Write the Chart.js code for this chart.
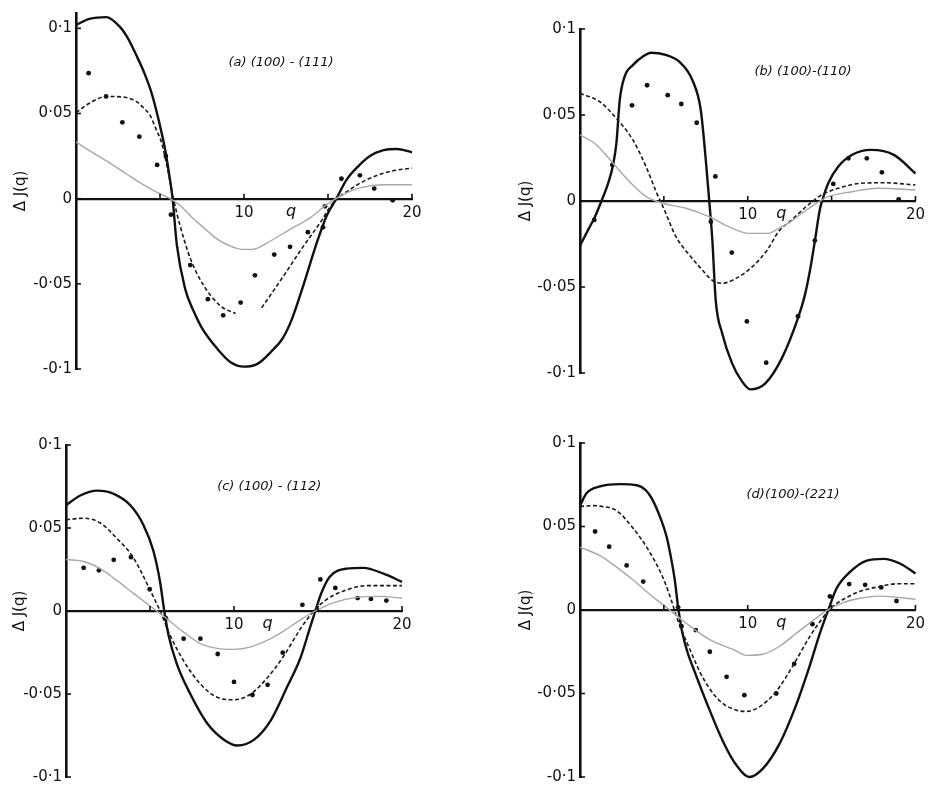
<!DOCTYPE html>
<html><head><meta charset="utf-8">
<script src="https://cdn.jsdelivr.net/npm/chart.js@4"></script>
<style>
body{margin:0;background:#fff;width:930px;height:790px;position:relative;overflow:hidden}
.p{position:absolute}
</style></head><body>
<div class="p" style="left:0;top:0;width:460px;height:395px"><canvas id="ca"></canvas></div>
<div class="p" style="left:465px;top:0;width:465px;height:400px"><canvas id="cb"></canvas></div>
<div class="p" style="left:0;top:400px;width:460px;height:390px"><canvas id="cc"></canvas></div>
<div class="p" style="left:465px;top:400px;width:465px;height:390px"><canvas id="cd"></canvas></div>
<script>
// ---- tick values / labels ----
const yTickValues = [-0.1, -0.05, 0, 0.05, 0.1];
const yTickLabels = ['-0·1', '-0·05', '0', '0·05', '0·1'];
const xTickValues = [5, 10, 15, 20];
const xTickLabels = ['', '10', '', '20'];
const yTitle = 'Δ J(q)';
const xName = 'q';
const panelTitles = ['(a) (100) - (111)', '(b) (100)-(110)', '(c) (100) - (112)', '(d)(100)-(221)'];

// ---- panel (a) ----
const aSolid = [[0,0.102],[0.8,0.1055],[1.8,0.1066],[2.6,0.101],[3.1,0.094],[3.6,0.084],[4.1,0.073],[4.5,0.062],[4.9,0.047],[5.3,0.029],[5.55,0.014],[5.75,0],[6.0,-0.027],[6.5,-0.053],[7.0,-0.066],[7.5,-0.076],[8.4,-0.088],[9.2,-0.096],[10,-0.0986],[10.8,-0.097],[11.6,-0.09],[12.3,-0.082],[12.84,-0.071],[13.53,-0.051],[14.33,-0.026],[14.92,-0.010],[15.5,0],[16.1,0.011],[16.8,0.019],[17.5,0.025],[18.3,0.0285],[19.1,0.0292],[20,0.0272]];
const aDashed = [[0,0.0505],[0.8,0.056],[1.8,0.060],[2.9,0.0595],[3.6,0.057],[4.0,0.0535],[4.4,0.049],[4.76,0.041],[5.1,0.0326],[5.5,0.015],[5.8,0],[6.2,-0.016],[6.8,-0.035],[7.6,-0.051],[8.6,-0.063],[9.5,-0.0675],[10.2,null],[11.05,-0.0641],[12.34,-0.0456],[13.53,-0.028],[14.52,-0.0143],[15.3,-0.0025],[16.3,0.0053],[17.3,0.0111],[18.7,0.016],[20,0.018]];
const aGray = [[0,0.0333],[1,0.027],[2.0,0.021],[3,0.0145],[4,0.0082],[4.8,0.0038],[5.5,0.0006],[6.2,-0.004],[6.94,-0.0113],[7.6,-0.017],[8.3,-0.023],[9.1,-0.0275],[9.9,-0.0298],[10.5,-0.0298],[11.55,-0.025],[12.74,-0.018],[13.93,-0.0113],[14.92,-0.0035],[15.7,0.0014],[16.9,0.0063],[18.3,0.0082],[20,0.0082]];
const aDots = [[0.75,0.0737],[1.79,0.060],[2.76,0.0448],[3.77,0.0364],[4.83,0.0198],[5.35,0.025],[5.65,-0.0094],[6.8,-0.039],[7.85,-0.059],[8.76,-0.0685],[9.8,-0.061],[10.65,-0.045],[11.8,-0.0328],[12.74,-0.0283],[13.8,-0.0197],[14.7,-0.0168],[14.82,-0.0045],[15.8,0.0117],[16.9,0.0137],[17.75,0.0059],[18.85,-0.001]];

// ---- panel (b) ----
const bSolid = [[0,-0.026],[0.5,-0.0165],[0.9,-0.009],[1.28,0],[1.7,0.011],[1.97,0.0209],[2.17,0.0336],[2.37,0.0587],[2.66,0.0723],[3.15,0.079],[3.75,0.084],[4.24,0.0862],[5.1,0.085],[5.92,0.081],[6.7,0.0703],[7.2,0.0529],[7.5,0.0238],[7.7,0.0006],[7.89,-0.0227],[8.09,-0.0576],[8.48,-0.077],[9.07,-0.0944],[9.6,-0.104],[10.16,-0.1095],[11.05,-0.106],[12.03,-0.0915],[13.0,-0.068],[13.4,-0.055],[13.7,-0.041],[14.0,-0.0235],[14.3,-0.005],[14.5,0.002],[14.8,0.0103],[15.4,0.020],[16.2,0.0267],[17.35,0.0297],[18.74,0.0267],[20,0.016]];
const bDashed = [[0,0.0626],[1.18,0.0577],[2.17,0.048],[3.15,0.0355],[3.94,0.0199],[4.54,0.0054],[5.03,-0.0052],[5.72,-0.0207],[6.4,-0.030],[7.1,-0.038],[7.9,-0.0462],[8.5,-0.0478],[9.3,-0.045],[10.3,-0.038],[11.2,-0.028],[11.83,-0.0179],[12.62,-0.011],[13.6,-0.0023],[14.4,0.0035],[15.4,0.0074],[16.76,0.0103],[18.15,0.0106],[20,0.0093]];
const bGray = [[0,0.0384],[0.99,0.0326],[1.97,0.0219],[2.96,0.0112],[3.95,0.0025],[4.93,-0.0013],[6.31,-0.0042],[7.7,-0.0091],[8.88,-0.015],[10.06,-0.0188],[11.24,-0.0188],[11.83,-0.016],[12.45,-0.0128],[13.1,-0.008],[13.8,-0.0033],[14.8,0.0025],[16.2,0.0054],[17.75,0.0074],[20,0.0064]];
const bDots = [[0.85,-0.011],[1.93,0.021],[3.1,0.0556],[4.0,0.0673],[5.23,0.0615],[6.04,0.0564],[6.96,0.0455],[7.8,-0.012],[8.07,0.0143],[9.05,-0.030],[9.95,-0.070],[11.1,-0.094],[13.0,-0.067],[14.0,-0.023],[15.1,0.0099],[16.0,0.0248],[17.1,0.0248],[18.0,0.0167],[19.0,0.001]];

// ---- panel (c) ----
const cSolid = [[0,0.0637],[0.85,0.0696],[1.85,0.0725],[2.84,0.0706],[3.83,0.0637],[4.6,0.052],[5.2,0.0363],[5.6,0.0175],[5.85,0],[6.1,-0.0145],[6.6,-0.032],[7.4,-0.050],[8.4,-0.0676],[9.4,-0.0775],[10.2,-0.081],[11.2,-0.0775],[12.2,-0.0657],[13.15,-0.046],[13.95,-0.0284],[14.5,-0.0108],[14.84,0],[15.2,0.0108],[15.7,0.0206],[16.7,0.0255],[17.7,0.026],[18.9,0.0225],[20,0.0176]];
const cDashed = [[0,0.055],[1.05,0.0559],[2.04,0.053],[3.0,0.044],[4.0,0.0323],[5.0,0.0127],[5.6,0],[6.2,-0.0147],[7.0,-0.030],[8.0,-0.044],[9.0,-0.052],[10,-0.0535],[11,-0.050],[12,-0.040],[13,-0.0265],[13.95,-0.0108],[14.75,0],[15.5,0.0069],[16.7,0.0127],[17.9,0.0153],[20,0.0153]];
const cGray = [[0,0.031],[1.05,0.0298],[2.04,0.0255],[3,0.0186],[4,0.0108],[5,0.003],[5.8,-0.003],[7,-0.0127],[8,-0.0196],[9,-0.0225],[10,-0.0231],[11,-0.0216],[12,-0.0176],[13,-0.0118],[14,-0.005],[14.84,0],[15.9,0.0049],[17.3,0.0082],[18.7,0.0088],[20,0.0078]];
const cDots = [[1.05,0.026],[1.96,0.0245],[2.84,0.0308],[3.87,0.0324],[4.98,0.0131],[5.95,-0.0045],[7.0,-0.0167],[8.0,-0.0167],[9.03,-0.0259],[10,-0.0427],[11.1,-0.0506],[12,-0.0445],[12.9,-0.0251],[14.07,0.0037],[15.14,0.019],[16.03,0.0139],[17.36,0.0078],[18.15,0.0073],[19.07,0.0063]];

// ---- panel (d) ----
const dSolid = [[0,0.0625],[0.4,0.070],[1.2,0.074],[2.4,0.0754],[3.4,0.0747],[3.9,0.072],[4.27,0.067],[4.8,0.055],[5.16,0.044],[5.45,0.03],[5.65,0.018],[5.85,0.0016],[6.1,-0.0135],[6.4,-0.025],[6.8,-0.036],[7.55,-0.0555],[8.54,-0.079],[9.33,-0.093],[10.1,-0.100],[10.9,-0.095],[11.9,-0.080],[12.9,-0.0565],[13.7,-0.0333],[14.3,-0.014],[14.8,0],[15.3,0.013],[16.1,0.0228],[17.1,0.0296],[18.1,0.0306],[19.1,0.0277],[20,0.0219]];
const dDashed = [[0,0.062],[0.8,0.0625],[1.19,0.0622],[2.18,0.0595],[3.17,0.0489],[4.17,0.0344],[4.96,0.019],[5.46,0.0054],[5.76,-0.0042],[6.55,-0.0236],[7.35,-0.041],[8.34,-0.0545],[9.33,-0.060],[9.93,-0.0607],[10.7,-0.058],[11.7,-0.0487],[12.7,-0.0333],[13.7,-0.0159],[14.5,-0.0043],[14.9,0.0006],[15.7,0.0064],[16.7,0.0112],[17.9,0.0141],[18.9,0.0157],[20,0.0157]];
const dGray = [[0,0.0377],[1.19,0.0325],[2.18,0.0257],[3.17,0.018],[4.17,0.0093],[5.16,0.0016],[6.35,-0.0081],[7.74,-0.0178],[9.13,-0.0236],[9.93,-0.0272],[10.9,-0.0265],[11.9,-0.0217],[12.9,-0.0139],[13.9,-0.0062],[14.7,-0.0004],[15.7,0.0044],[16.7,0.007],[17.9,0.0083],[20,0.0064]];
const dDots = [[0.9,0.047],[1.74,0.0379],[2.78,0.0267],[3.77,0.017],[5.85,0.0016],[6.05,-0.0097],[6.9,-0.012],[7.74,-0.025],[8.74,-0.040],[9.8,-0.051],[11.7,-0.050],[12.77,-0.0323],[13.86,-0.0085],[14.9,0.0081],[16.05,0.0155],[17.0,0.0151],[17.96,0.0135],[18.87,0.0054]];

// ---- drawing ----
const FONT = '"DejaVu Sans", sans-serif';
const toXY = arr => arr.map(p => ({x: p[0], y: p[1]}));

const decor = {
  id: 'decor',
  afterDraw(chart, args, opts) {
    const {ctx, chartArea} = chart;
    const x = chart.scales.x, y = chart.scales.y;
    ctx.save();
    ctx.strokeStyle = '#111';
    ctx.lineWidth = 1.6;
    yTickValues.forEach(v => {
      if (v < y.min - 1e-9 || v > y.max + 1e-9) return;
      const py = y.getPixelForValue(v);
      ctx.beginPath(); ctx.moveTo(chartArea.left, py); ctx.lineTo(chartArea.left + 5, py); ctx.stroke();
    });
    const py0 = y.getPixelForValue(0);
    xTickValues.forEach(v => {
      const px = x.getPixelForValue(v);
      ctx.beginPath(); ctx.moveTo(px, py0); ctx.lineTo(px, py0 - 5); ctx.stroke();
    });
    ctx.fillStyle = '#111';
    ctx.textAlign = 'center';
    ctx.textBaseline = 'top';
    ctx.font = 'italic 16px ' + FONT;
    ctx.fillText(xName, x.getPixelForValue(opts.qAt), py0 + 5);
    ctx.font = 'italic 13px ' + FONT;
    ctx.textBaseline = 'middle';
    ctx.fillText(opts.title, x.getPixelForValue(opts.titleAt[0]), y.getPixelForValue(opts.titleAt[1]));
    ctx.restore();
  }
};

function makePanel(id, s, cfg) {
  new Chart(document.getElementById(id), {
    type: 'scatter',
    data: {
      datasets: [
        {data: toXY(s.gray), showLine: true, borderColor: '#a8a8a8', borderWidth: 1.4, pointRadius: 0, cubicInterpolationMode: 'monotone', clip: false},
        {data: toXY(s.dashed), showLine: true, borderColor: '#1a1a1a', borderWidth: 1.6, borderDash: [4, 2.5], pointRadius: 0, cubicInterpolationMode: 'monotone', spanGaps: false, clip: false},
        {data: toXY(s.solid), showLine: true, borderColor: '#111', borderWidth: 2.4, pointRadius: 0, cubicInterpolationMode: 'monotone', clip: false},
        {data: toXY(s.dots), showLine: false, backgroundColor: '#111', borderColor: '#111', borderWidth: 0, pointRadius: 2.4, clip: false}
      ]
    },
    options: {
      responsive: true, maintainAspectRatio: false, animation: false,
      layout: {padding: cfg.pad},
      plugins: {legend: {display: false}, tooltip: {enabled: false},
        decor: {title: cfg.title, titleAt: cfg.titleAt, qAt: cfg.qAt}},
      scales: {
        x: {
          type: 'linear', min: 0, max: 20, position: {y: 0},
          afterBuildTicks: sc => { sc.ticks = xTickValues.map(v => ({value: v})); },
          ticks: {autoSkip: false, maxRotation: 0, padding: 5, color: '#111',
            font: {family: FONT, size: 15},
            callback: v => { const i = xTickValues.indexOf(v); return i >= 0 ? xTickLabels[i] : ''; }},
          grid: {display: true, drawOnChartArea: false, drawTicks: false, color: 'rgba(0,0,0,0)'},
          border: {display: true, color: '#111', width: 2.2}
        },
        y: {
          type: 'linear', min: cfg.ymin, max: cfg.ymax,
          afterFit: sc => { sc.width = cfg.axisW; },
          afterBuildTicks: sc => { sc.ticks = yTickValues.map(v => ({value: v})); },
          ticks: {padding: 4, color: '#111', font: {family: FONT, size: 15},
            callback: v => { const i = yTickValues.findIndex(t => Math.abs(t - v) < 1e-9); return i >= 0 ? yTickLabels[i] : ''; }},
          grid: {display: true, drawOnChartArea: false, drawTicks: false, color: 'rgba(0,0,0,0)'},
          border: {display: true, color: '#111', width: 2.6},
          title: {display: true, text: yTitle, color: '#111', font: {family: FONT, size: 15}, padding: {top: 2, bottom: 2}}
        }
      }
    },
    plugins: [decor]
  });
}

makePanel('ca', {solid: aSolid, dashed: aDashed, gray: aGray, dots: aDots},
  {pad: {left: 10, top: 13, right: 48, bottom: 26}, axisW: 66, ymin: -0.1, ymax: 0.109,
   title: panelTitles[0], titleAt: [12.2, 0.080], qAt: 12.8});
makePanel('cb', {solid: bSolid, dashed: bDashed, gray: bGray, dots: bDots},
  {pad: {left: 50, top: 29, right: 12, bottom: 27}, axisW: 65, ymin: -0.1, ymax: 0.1,
   title: panelTitles[1], titleAt: [13.3, 0.075], qAt: 12.0});
makePanel('cc', {solid: cSolid, dashed: cDashed, gray: cGray, dots: cDots},
  {pad: {left: 9, top: 45, right: 58, bottom: 5}, axisW: 57, ymin: -0.1, ymax: 0.1,
   title: panelTitles[2], titleAt: [12.1, 0.0747], qAt: 12.0});
makePanel('cd', {solid: dSolid, dashed: dDashed, gray: dGray, dots: dDots},
  {pad: {left: 50, top: 43, right: 14, bottom: 2}, axisW: 65, ymin: -0.1, ymax: 0.1,
   title: panelTitles[3], titleAt: [12.7, 0.069], qAt: 12.0});
</script>
</body></html>
